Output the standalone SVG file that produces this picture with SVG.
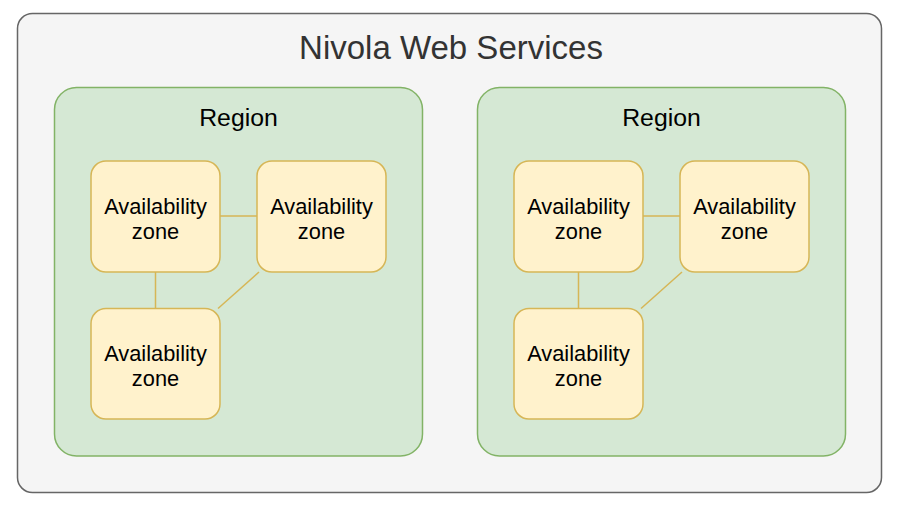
<svg xmlns="http://www.w3.org/2000/svg" width="897" height="506" viewBox="0 0 897 506">
<style>
.outer{fill:#f5f5f5;stroke:#666666;stroke-width:1.5}
.region{fill:#d5e8d4;stroke:#82b366;stroke-width:1.5}
.az{fill:#fff2cc;stroke:#d6b656;stroke-width:1.5}
.conn{stroke:#d6b656;stroke-width:1.5;fill:none}
text{font-family:"Liberation Sans",Arial,Helvetica,sans-serif;text-anchor:middle}
.title{font-size:33px;fill:#333333}
.rl{font-size:24.8px;fill:#000}
.al{font-size:21.8px;fill:#000}
</style>
<g id="cloud">
<rect class="outer" x="17.5" y="13.5" width="864" height="479" rx="15" ry="15"/>
<text class="title" x="451" y="59">Nivola Web Services</text>
</g>
<g id="region1">
<rect class="region" x="54.5" y="87.5" width="368" height="368.5" rx="22" ry="22"/>
<text class="rl" x="238.5" y="125.5">Region</text>
</g>
<g id="region2">
<rect class="region" x="477.5" y="87.5" width="368" height="368.5" rx="22" ry="22"/>
<text class="rl" x="661.5" y="125.5">Region</text>
</g>
<g id="connectors">
<line class="conn" x1="220" y1="216" x2="257" y2="216"/>
<line class="conn" x1="155.5" y1="272" x2="155.5" y2="308.5"/>
<line class="conn" x1="259" y1="272" x2="218" y2="308.5"/>
<line class="conn" x1="643" y1="216" x2="680" y2="216"/>
<line class="conn" x1="578.5" y1="272" x2="578.5" y2="308.5"/>
<line class="conn" x1="682" y1="272" x2="641" y2="308.5"/>
</g>
<g id="az1a">
<rect class="az" x="91" y="161" width="129" height="111" rx="15" ry="15"/>
<text class="al" x="155.5" y="213.5">Availability</text>
<text class="al" x="155.5" y="238.5">zone</text>
</g>
<g id="az1b">
<rect class="az" x="257" y="161" width="129" height="111" rx="15" ry="15"/>
<text class="al" x="321.5" y="213.5">Availability</text>
<text class="al" x="321.5" y="238.5">zone</text>
</g>
<g id="az1c">
<rect class="az" x="91" y="308.5" width="129" height="110.5" rx="15" ry="15"/>
<text class="al" x="155.5" y="360.5">Availability</text>
<text class="al" x="155.5" y="386">zone</text>
</g>
<g id="az2a">
<rect class="az" x="514" y="161" width="129" height="111" rx="15" ry="15"/>
<text class="al" x="578.5" y="213.5">Availability</text>
<text class="al" x="578.5" y="238.5">zone</text>
</g>
<g id="az2b">
<rect class="az" x="680" y="161" width="129" height="111" rx="15" ry="15"/>
<text class="al" x="744.5" y="213.5">Availability</text>
<text class="al" x="744.5" y="238.5">zone</text>
</g>
<g id="az2c">
<rect class="az" x="514" y="308.5" width="129" height="110.5" rx="15" ry="15"/>
<text class="al" x="578.5" y="360.5">Availability</text>
<text class="al" x="578.5" y="386">zone</text>
</g>
</svg>
